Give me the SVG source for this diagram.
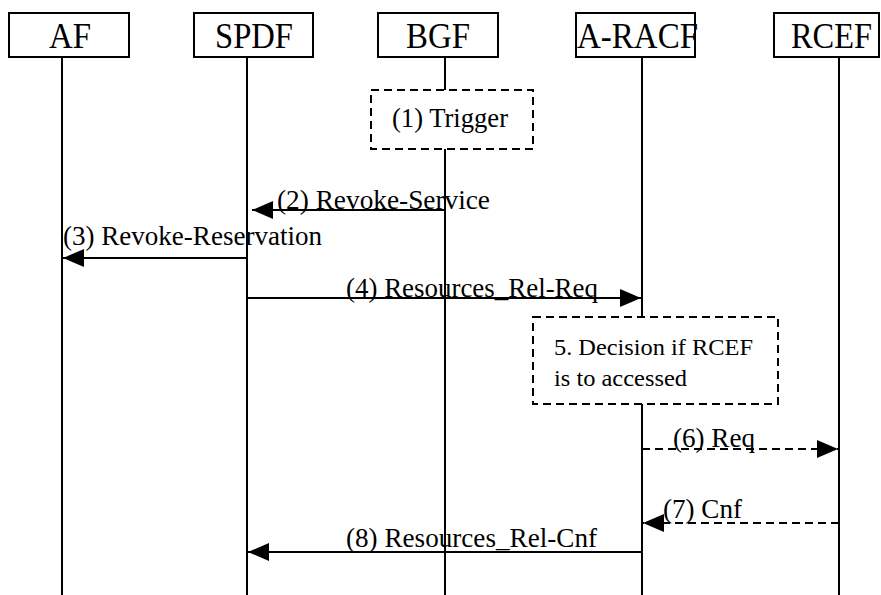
<svg xmlns="http://www.w3.org/2000/svg" width="881" height="595" viewBox="0 0 881 595">
<style>
.box{fill:#fff;stroke:#000;stroke-width:2}
.dbox{fill:#fff;stroke:#000;stroke-width:2;stroke-dasharray:8,5}
.life{stroke:#000;stroke-width:2;fill:none}
.msg{stroke:#000;stroke-width:2;fill:none;marker-end:url(#ah)}
.dmsg{stroke:#000;stroke-width:2;fill:none;stroke-dasharray:8,5;marker-end:url(#ah)}
.ent{font-family:"Liberation Serif","Times New Roman",serif;font-size:36px;fill:#000}
.lbl{font-family:"Liberation Serif","Times New Roman",serif;font-size:27px;fill:#000}
.note{font-family:"Liberation Serif","Times New Roman",serif;font-size:24px;fill:#000}
</style>
<defs>
<marker id="ah" markerUnits="userSpaceOnUse" markerWidth="22" markerHeight="18" refX="21" refY="9" orient="auto">
<path d="M0,0 L21,9 L0,18 z" fill="#000"/>
</marker>
</defs>
<rect width="881" height="595" fill="#fff"/>
<g id="lifelines">
<line class="life" x1="62" y1="57" x2="62" y2="595"/>
<line class="life" x1="247" y1="57" x2="247" y2="595"/>
<line class="life" x1="445" y1="57" x2="445" y2="595"/>
<line class="life" x1="642" y1="57" x2="642" y2="595"/>
<line class="life" x1="839" y1="57" x2="839" y2="595"/>
</g>
<g id="AF">
<rect class="box" x="9" y="13" width="120" height="44"/>
<text class="ent" x="49" y="48" textLength="42" lengthAdjust="spacingAndGlyphs">AF</text>
</g>
<g id="SPDF">
<rect class="box" x="194" y="13" width="119" height="44"/>
<text class="ent" x="215" y="48" textLength="78" lengthAdjust="spacingAndGlyphs">SPDF</text>
</g>
<g id="BGF">
<rect class="box" x="378" y="13" width="120" height="44"/>
<text class="ent" x="406" y="48" textLength="64" lengthAdjust="spacingAndGlyphs">BGF</text>
</g>
<g id="A-RACF">
<rect class="box" x="576" y="13" width="119" height="44"/>
<text class="ent" x="577" y="48" textLength="121" lengthAdjust="spacingAndGlyphs">A-RACF</text>
</g>
<g id="RCEF">
<rect class="box" x="774" y="13" width="105" height="44"/>
<text class="ent" x="791" y="48" textLength="81" lengthAdjust="spacingAndGlyphs">RCEF</text>
</g>
<g id="trigger">
<rect class="dbox" x="371" y="90" width="162" height="59"/>
<text class="lbl" x="392" y="127" textLength="116" lengthAdjust="spacingAndGlyphs">(1) Trigger</text>
</g>
<g id="decision">
<rect class="dbox" x="533" y="317" width="245" height="87"/>
<text class="note" x="554" y="355" textLength="199" lengthAdjust="spacingAndGlyphs">5. Decision if RCEF</text>
<text class="note" x="554" y="386" textLength="133" lengthAdjust="spacingAndGlyphs">is to accessed</text>
</g>
<g id="connectors">
<line class="msg" x1="445" y1="210" x2="252" y2="210"/>
<text class="lbl" x="277" y="209" textLength="213" lengthAdjust="spacingAndGlyphs">(2) Revoke-Service</text>
<line class="msg" x1="247" y1="258" x2="63" y2="258"/>
<text class="lbl" x="63" y="245" textLength="259" lengthAdjust="spacingAndGlyphs">(3) Revoke-Reservation</text>
<line class="msg" x1="247" y1="298" x2="641" y2="298"/>
<text class="lbl" x="346" y="297" textLength="252" lengthAdjust="spacingAndGlyphs">(4) Resources_Rel-Req</text>
<line class="dmsg" x1="642" y1="449" x2="838" y2="449"/>
<text class="lbl" x="673" y="447" textLength="82" lengthAdjust="spacingAndGlyphs">(6) Req</text>
<line class="dmsg" x1="839" y1="523" x2="643" y2="523"/>
<text class="lbl" x="663" y="518" textLength="79" lengthAdjust="spacingAndGlyphs">(7) Cnf</text>
<line class="msg" x1="642" y1="552" x2="248" y2="552"/>
<text class="lbl" x="346" y="547" textLength="251" lengthAdjust="spacingAndGlyphs">(8) Resources_Rel-Cnf</text>
</g>
</svg>
